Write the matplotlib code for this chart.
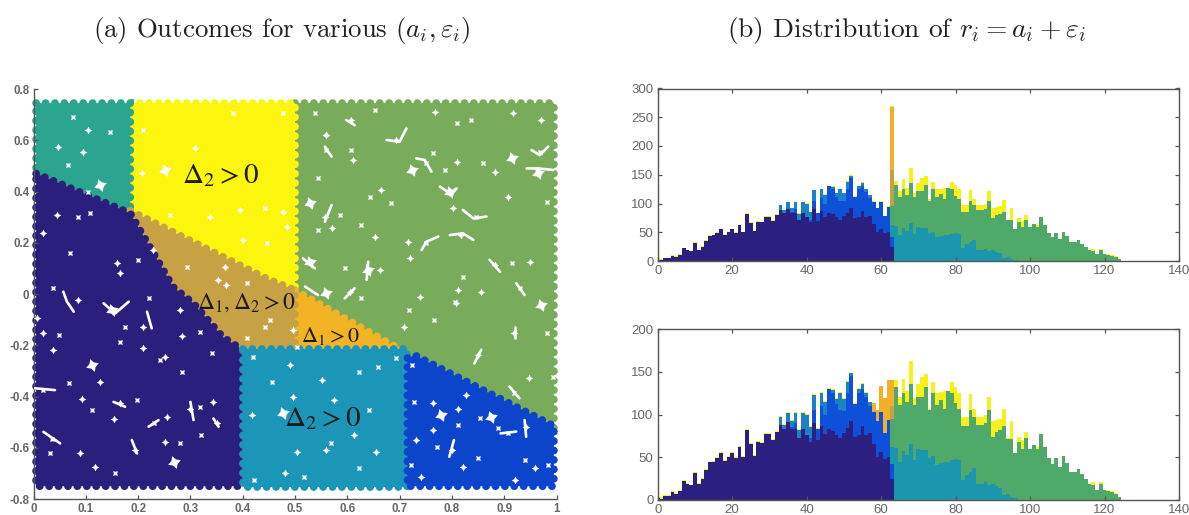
import matplotlib
matplotlib.use('Agg')
import matplotlib.pyplot as plt
import numpy as np
from matplotlib.patches import Polygon

plt.rcParams['font.family'] = ['Liberation Sans', 'DejaVu Sans']
plt.rcParams['mathtext.fontset'] = 'cm'
plt.rcParams['axes.unicode_minus'] = False

# region outlines of the scatter panel
regions = {
    'green': ([0.5, 0.995, 0.995, 0.7, 0.5], [0.745, 0.745, -0.53, -0.215, 0.015], '#78ab5a'),
    'yellow': ([0.185, 0.5, 0.5, 0.446, 0.185], [0.745, 0.745, 0.015, 0.06, 0.325], '#fcf50e'),
    'teal': ([0.005, 0.185, 0.185, 0.005], [0.745, 0.745, 0.32, 0.47], '#2ca58e'),
    'orange': ([0.5, 0.7, 0.7, 0.5], [0.015, -0.215, -0.22, -0.22], '#f2b324'),
    'gold': ([0.185, 0.446, 0.5, 0.5, 0.4, 0.362, 0.305, 0.267],
             [0.325, 0.06, 0.015, -0.215, -0.215, -0.168, -0.035, 0.027], '#c7a244'),
    'navy': ([0.005, 0.185, 0.267, 0.305, 0.362, 0.4, 0.4, 0.005],
             [0.47, 0.315, 0.027, -0.035, -0.168, -0.218, -0.75, -0.75], '#2a1f7d'),
    'steel': ([0.4, 0.715, 0.715, 0.4], [-0.215, -0.215, -0.755, -0.755], '#1c96b8'),
    'blue': ([0.715, 0.73, 0.995, 0.995, 0.715], [-0.25, -0.24, -0.515, -0.75, -0.75], '#0c45cc'),
}

# white gaps between the dots
gap_x = [0.723, 0.528, 0.56, 0.528, 0.64, 0.796, 0.914, 0.965, 0.971, 0.779, 0.875, 0.268, 0.15,
         0.112, 0.478, 0.127, 0.251]
gap_y = [0.484, 0.354, 0.003, 0.126, 0.094, 0.399, 0.529, 0.471, -0.043, -0.472, -0.479, -0.655,
         -0.0625, -0.277, -0.466, 0.425, 0.484]
speck_x = [0.019, 0.048, 0.038, 0.166, 0.21, 0.175, 0.092, 0.112, 0.166, 0.067, 0.128, 0.035, 0.089,
           0.032, 0.195, 0.32, 0.255, 0.23, 0.3, 0.284, 0.281, 0.319, 0.284, 0.341, 0.252, 0.242,
           0.344, 0.038, 0.086, 0.22, 0.006, 0.197, 0.153, 0.156, 0.118, 0.319, 0.351, 0.281, 0.252,
           0.019, 0.21, 0.086, 0.044, 0.2, 0.16, 0.07, 0.018, 0.108, 0.165,
           0.104, 0.095, 0.076, 0.047, 0.066, 0.104, 0.146,
           0.207, 0.21, 0.309, 0.382, 0.337, 0.261, 0.395, 0.443, 0.477, 0.477, 0.401, 0.446, 0.485,
           0.453, 0.369, 0.408, 0.353, 0.443, 0.497, 0.408, 0.229, 0.293, 0.366, 0.504,
           0.497, 0.456, 0.417, 0.568, 0.613, 0.658, 0.654, 0.517, 0.481, 0.421, 0.56, 0.622, 0.574,
           0.42, 0.491, 0.622, 0.552, 0.693, 0.504, 0.642,
           0.811, 0.724, 0.827, 0.811, 0.801, 0.772, 0.731, 0.721, 0.821, 0.939, 0.958, 0.984, 0.942,
           0.907, 0.74, 0.727, 0.763, 0.853, 0.92, 0.849, 0.763, 0.888,
           0.767, 0.809, 0.56, 0.643, 0.56, 0.608, 0.694, 0.764, 0.809, 0.751, 0.882, 0.786, 0.665,
           0.595, 0.812, 0.93, 0.882, 0.914, 0.949, 0.627, 0.557, 0.544, 0.907, 0.968, 0.971, 0.837,
           0.608, 0.751, 0.719, 0.684, 0.802, 0.538, 0.917, 0.653, 0.716, 0.86, 0.662, 0.544, 0.57,
           0.586, 0.653, 0.821, 0.856, 0.805, 0.739, 0.981, 0.605, 0.56, 0.611, 0.847, 0.818, 0.627,
           0.919, 0.981, 0.849, 0.766, 0.708, 0.718, 0.808, 0.919, 0.948, 0.993]
speck_y = [-0.154, -0.16, -0.219, -0.186, -0.212, -0.128, -0.411, -0.453, -0.427, -0.349, -0.342,
           -0.564, -0.62, -0.622, -0.609, -0.551, -0.479, -0.505, -0.447, -0.303, -0.0625, -0.147,
           -0.164, -0.232, -0.245, -0.258, -0.42, 0.022, -0.023, -0.017, -0.095, -0.414, -0.486,
           -0.7, -0.674, -0.44, -0.505, -0.583, -0.577, -0.375, -0.128, 0.302, 0.308, 0.133, 0.121,
           0.16, 0.238, 0.316, 0.082,
           0.398, 0.554, 0.691, 0.574, 0.503, 0.64, 0.632,
           0.472, 0.64, 0.57, 0.706, 0.3, 0.308, 0.328, 0.336, 0.32, 0.706, 0.211, 0.199, 0.262,
           -0.101, 0.035, 0.042, 0.055, -0.127, -0.14, -0.173, 0.171, 0.105, 0.105, -0.205,
           -0.4, -0.342, -0.472, -0.583, -0.55, -0.283, -0.615, -0.713, -0.7, -0.726, -0.61, -0.68,
           -0.414, -0.245, -0.277, -0.303, -0.335, -0.25, -0.615, -0.453,
           -0.45, -0.277, -0.394, -0.511, -0.609, -0.596, -0.57, -0.667, -0.674, -0.648, -0.68,
           -0.667, -0.518, -0.544, -0.713, -0.42, -0.427, -0.485, -0.726, -0.641, -0.531, -0.524,
           0.711, 0.666, 0.62, 0.38, 0.62, 0.562, 0.601, 0.549, 0.516, 0.51, 0.477, 0.484, 0.406,
           0.1, 0.016, 0.022, 0.113, 0.12, 0.126, -0.017, 0.302, 0.451, 0.38, 0.555, 0.679, 0.679,
           0.679, 0.198, 0.139, 0.354, 0.334, 0.705, 0.705, 0.718, 0.204, 0.51, 0.094, 0.25, 0.256,
           0.308, 0.224, 0.068, 0.009, -0.03, -0.01, 0.36, 0.009, 0.562, 0.523, 0.302, 0.23, 0.269,
           -0.154, -0.154, -0.238, -0.1, -0.127, -0.063, -0.037, -0.388, -0.329, -0.323]
# long thin gaps, each one a short run of points
string_x = [[0.821, 0.841, 0.866], [0.796, 0.821, 0.841], [0.732, 0.748, 0.761], [0.777, 0.796, 0.809],
            [0.515, 0.538], [0.64, 0.637], [0.872, 0.892], [0.943, 0.965, 0.994], [0.952, 0.968, 0.984],
            [0.675, 0.7, 0.713], [0.742, 0.751, 0.774], [0.598, 0.614], [0.557, 0.57], [0.557, 0.57],
            [0.923, 0.939], [0.595, 0.614], [0.519, 0.544],
            [0.019, 0.051], [0.003, 0.041], [0.3, 0.306], [0.134, 0.156, 0.182], [0.217, 0.226],
            [0.057, 0.064, 0.077], [0.344, 0.354], [0.188, 0.198], [0.153, 0.175], [0.22, 0.239],
            [0.804, 0.795], [0.939, 0.942], [0.893, 0.923], [0.91, 0.929], [0.843, 0.856], [0.92, 0.92]]
string_y = [[0.328, 0.295, 0.302], [0.23, 0.237, 0.211], [0.529, 0.523, 0.477], [0.419, 0.393, 0.412],
            [0.139, 0.1], [0.126, 0.055], [0.133, 0.087], [0.49, 0.49, 0.484], [0.562, 0.542, 0.575],
            [0.601, 0.594, 0.646], [0.172, 0.204, 0.224], [0.679, 0.659], [0.575, 0.536], [0.282, 0.347],
            [0.042, -0.004], [-0.017, 0.022], [0.029, -0.004],
            [-0.538, -0.583], [-0.368, -0.375], [-0.421, -0.492], [-0.036, -0.076, -0.03], [-0.069, -0.134],
            [0.009, -0.03, -0.069], [-0.486, -0.518], [-0.57, -0.622], [-0.421, -0.44], [-0.518, -0.492],
            [-0.57, -0.635], [-0.492, -0.557], [-0.544, -0.537], [-0.361, -0.407], [-0.271, -0.218], [-0.127, -0.173]]

# histogram layers, one value per bin, starting at bin 0
navy_bins = [2, 1, 5, 5, 9, 7, 11, 22, 19, 17, 32, 19, 25, 35, 44, 45, 49, 55, 46, 50,
             55, 49, 62, 50, 82, 66, 52, 68, 67, 77, 77, 70, 80, 88, 83, 91, 83, 83, 72, 83,
             76, 68, 90, 70, 87, 77, 83, 81, 76, 72, 78, 84, 92, 74, 76, 87, 76, 78, 65, 50,
             56, 48, 50, 25]
# starting at bin 33
steel_bins = [97, 88, 102, 92, 102, 82, 102, 100, 85, 123, 83, 125, 115, 130, 129, 118, 125, 118,
              138, 148, 112, 130, 136, 125, 115, 103, 92, 103, 78, 94, 45]
blue_bins = [88, 83, 91, 85, 90, 72, 83, 76, 72, 105, 83, 110, 100, 130, 125, 112, 105, 104,
             125, 145, 112, 125, 130, 120, 110, 103, 92, 103, 78, 94, 42]
# bins 0 to 62, then bin 63 differs per panel, then bins 64 to 124
yellow_left = [3, 3, 6, 6, 10, 8, 12, 23, 20, 18, 33, 20, 26, 36, 45, 46, 50, 56, 47, 51,
               56, 50, 63, 51, 83, 67, 53, 69, 68, 78, 78, 71, 81, 98, 89, 103, 93, 103, 83, 103,
               101, 86, 124, 84, 126, 116, 131, 130, 119, 126, 119, 139, 149, 113, 131, 137, 126,
               115, 104, 93, 104, 79, 95]
yellow_right = [140, 121, 142, 127, 162, 119, 136, 144, 147, 107, 138, 125, 126, 127, 107, 138,
                132, 125, 97, 97, 124, 107, 97, 97, 99, 121, 92, 94, 95, 106, 72, 92, 55, 74, 70,
                80, 60, 64, 62, 77, 62, 49, 42, 49, 39, 51, 43, 33, 33, 36, 30, 25, 19, 21, 12,
                21, 12, 12, 10, 8, 4]
# starting at bin 63
green_bins = [95, 132, 111, 125, 115, 136, 111, 121, 121, 132, 105, 125, 111, 117, 107, 127, 125,
              113, 107, 86, 86, 105, 97, 88, 88, 90, 105, 74, 80, 82, 86, 71, 71, 55, 68, 60, 72,
              60, 64, 60, 77, 62, 49, 42, 49, 39, 51, 43, 33, 33, 36, 30, 25, 19, 17, 12, 19, 12,
              11, 9, 7, 3]
teal_bins = [62, 61, 45, 57, 53, 66, 47, 60, 58, 58, 49, 51, 41, 43, 45, 45, 47, 48, 47, 23, 29,
             33, 37, 19, 19, 21, 18, 19, 16, 14, 6, 7, 3, 2]
# orange part of each panel: upper panel has only the spike at bin 63
top_spike = 270
top_orange = 268
top_tan = 158
low_yellow_63 = 140
low_orange = [114, 105, 133, 119, 140, 140]  # bins 58 to 63
low_tan = 110

hist_colors = {'yellow': '#f8f01a', 'orange': '#f5ae2a', 'tan': '#c3a04a', 'steel': '#1a82c8',
               'green': '#4faa6a', 'teal': '#1b96ae', 'blue': '#0f50d8', 'navy': '#2b1f80'}
text_gray = '#666666'
axis_gray = '#555555'
W, H = 1189, 515


def add_axes(fig, left, right, top, bottom):
    return fig.add_axes([left / W, 1 - bottom / H, (right - left) / W, (bottom - top) / H])


def layer(ax, first, vals, name):
    edges = np.arange(len(vals) + 1) + first - 0.5
    ax.stairs(vals, edges, fill=True, color=hist_colors[name], linewidth=0)


def style(ax, size):
    for s in ax.spines.values():
        s.set_color(axis_gray)
        s.set_linewidth(1.0)
    ax.tick_params(direction='in', colors=text_gray, labelsize=size, length=3, width=0.9, pad=3,
                   color=axis_gray)


fig = plt.figure(figsize=(W / 100, H / 100), dpi=100)

fig.text(282 / W, 1 - 30 / H, r'(a) Outcomes for various $(a_i, \varepsilon_i)$', family='cmr10',
         fontsize=19.3, ha='center', va='center', color='#222222')
fig.text(906 / W, 1 - 30 / H, r'(b) Distribution of $r_i = a_i + \varepsilon_i$', family='cmr10',
         fontsize=19.8, ha='center', va='center', color='#222222')

# left panel
ax = add_axes(fig, 33.5, 556.5, 89, 499)
for xs, ys, col in regions.values():
    # round dotted edge gives the bumpy outline of the scatter
    ax.add_patch(Polygon(np.column_stack([xs, ys]), closed=True, facecolor=col, edgecolor=col,
                         linewidth=5.6, capstyle='round', linestyle=(0, (0.01, 1.2)),
                         clip_on=False))
ax.scatter(speck_x[::2], speck_y[::2], s=30, c='white', marker=(4, 1, 0), linewidths=0, zorder=3)
ax.scatter(speck_x[1::2], speck_y[1::2], s=24, c='white', marker=(4, 1, 45), linewidths=0, zorder=3)
ax.scatter(gap_x, gap_y, s=95, c='white', marker=(4, 1, 20), linewidths=0, zorder=3)
for xs, ys in zip(string_x, string_y):
    ax.plot(xs, ys, color='white', lw=1.9, solid_capstyle='round', zorder=3)
ax.set_xlim(0, 1)
ax.set_ylim(-0.8, 0.8)
ax.set_xticks(np.arange(0, 11) / 10, ['0', '0.1', '0.2', '0.3', '0.4', '0.5', '0.6', '0.7', '0.8', '0.9', '1'])
ax.set_yticks(np.arange(-4, 5) / 5, ['-0.8', '-0.6', '-0.4', '-0.2', '0', '0.2', '0.4', '0.6', '0.8'])
ax.spines['top'].set_visible(False)
ax.spines['right'].set_visible(False)
style(ax, 8.3)
for lab in ax.get_xticklabels() + ax.get_yticklabels():
    lab.set_fontweight('bold')

notes = [(0.357, 0.464, r'$\Delta_2 > 0$', 21), (0.408, -0.035, r'$\Delta_1, \Delta_2 > 0$', 17),
         (0.569, -0.164, r'$\Delta_1 > 0$', 16), (0.552, -0.484, r'$\Delta_2 > 0$', 21)]
for x, y, s, fs in notes:
    ax.text(x, y, s, fontsize=fs, ha='center', va='center', math_fontfamily='stix', color='#1a1a1a', zorder=4)

# right panels
for panel in range(2):
    if panel == 0:
        ax = add_axes(fig, 657.7, 1179, 88.5, 261)
        layer(ax, 0, yellow_left + [top_spike] + yellow_right, 'yellow')
        layer(ax, 63, [top_orange], 'orange')
        layer(ax, 63, [top_tan], 'tan')
        ax.set_ylim(0, 300)
        ax.set_yticks(range(0, 301, 50))
    else:
        ax = add_axes(fig, 657.7, 1179, 329, 500)
        layer(ax, 0, yellow_left + [low_yellow_63] + yellow_right, 'yellow')
        layer(ax, 58, low_orange, 'orange')
        layer(ax, 63, [low_tan], 'tan')
        ax.set_ylim(0, 200)
        ax.set_yticks(range(0, 201, 50))
    layer(ax, 33, steel_bins, 'steel')
    layer(ax, 63, green_bins, 'green')
    layer(ax, 63, teal_bins, 'teal')
    layer(ax, 33, blue_bins, 'blue')
    layer(ax, 0, navy_bins, 'navy')
    ax.set_xlim(0, 140)
    ax.set_xticks(range(0, 141, 20))
    ax.tick_params(top=True, right=True)
    style(ax, 9.5)

fig.savefig('out.png', dpi=100)
